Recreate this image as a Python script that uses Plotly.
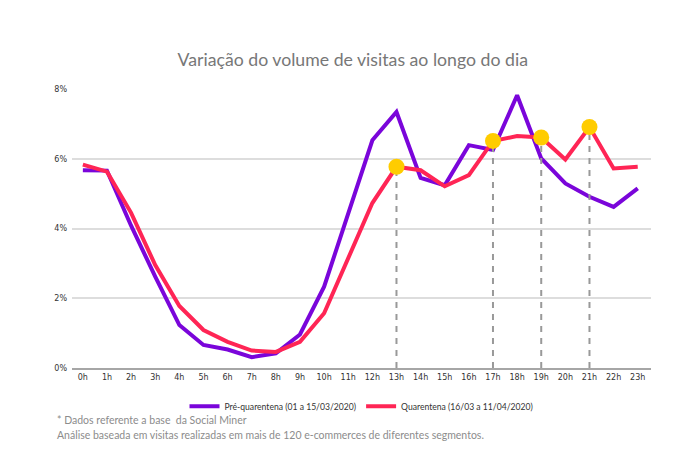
import plotly.graph_objects as go

hours = [f"{h}h" for h in range(24)]
pre_quarentena = [5.67, 5.66, 4.08, 2.62, 1.23, 0.66, 0.53, 0.31, 0.42, 0.96, 2.33, 4.45,
                  6.53, 7.34, 5.45, 5.24, 6.39, 6.25, 7.82, 6.01, 5.29, 4.91, 4.62, 5.15]
quarentena = [5.83, 5.63, 4.45, 2.95, 1.78, 1.09, 0.75, 0.50, 0.46, 0.75, 1.57, 3.15,
              4.73, 5.77, 5.67, 5.21, 5.53, 6.51, 6.65, 6.61, 5.98, 6.91, 5.72, 5.77]
destaques = ["13h", "17h", "19h", "21h"]
y_ticks = [0, 2, 4, 6, 8]
y_tick_labels = ["0%", "2%", "4%", "6%", "8%"]

PURPLE = "#7A05DA"
RED = "#FF2555"
YELLOW = "#FFCC00"

fig = go.Figure()

fig.add_trace(go.Scatter(x=hours, y=pre_quarentena, mode="lines",
                         name="Pré-quarentena (01 a 15/03/2020)",
                         line=dict(color=PURPLE, width=4)))

# dashed drop lines from highlighted points
dx, dy = [], []
for h in destaques:
    v = quarentena[hours.index(h)]
    dx += [h, h, None]
    dy += [0, v, None]
fig.add_trace(go.Scatter(x=dx, y=dy, mode="lines", showlegend=False, hoverinfo="skip",
                         line=dict(color="#999999", width=2, dash="6px,6px")))

fig.add_trace(go.Scatter(x=hours, y=quarentena, mode="lines",
                         name="Quarentena (16/03 a 11/04/2020)",
                         line=dict(color=RED, width=4)))
fig.add_trace(go.Scatter(x=destaques, y=[quarentena[hours.index(h)] for h in destaques],
                         mode="markers", showlegend=False,
                         marker=dict(color=YELLOW, size=16)))

fig.update_layout(
    width=681, height=455,
    margin=dict(l=72, r=30, t=89, b=87),
    paper_bgcolor="white", plot_bgcolor="white",
    title=dict(text="Variação do volume de visitas ao longo do dia",
               x=0.518, xanchor="center", y=0.868, yanchor="middle",
               font=dict(family="Lato", size=17.7, color="#777777")),
    xaxis=dict(type="category", categoryorder="array", categoryarray=hours,
               range=[-0.45, 23.55], showgrid=False,
               showline=True, linecolor="#A6A6A6", linewidth=2,
               ticks="", tickfont=dict(family="DejaVu Sans", size=8, color="#333333"),
               fixedrange=True),
    yaxis=dict(range=[0, 8], tickvals=y_ticks, ticktext=y_tick_labels,
               showgrid=True, gridcolor="#DDDDDD", gridwidth=1.5, zeroline=False,
               ticks="", tickfont=dict(family="DejaVu Sans", size=8, color="#333333"),
               ticklabelstandoff=4),
    legend=dict(orientation="h", x=0.5, xanchor="center", y=-0.085, yanchor="top",
                font=dict(family="Lato", size=8.6, color="#333333"), itemwidth=30,
                traceorder="normal"),
    showlegend=True,
)

fig.add_annotation(text="* Dados referente a base  da Social Miner", xref="paper", yref="paper",
                   x=-0.03, y=-0.185, xanchor="left", yanchor="middle", showarrow=False,
                   font=dict(family="Lato", size=10.5, color="#8C8C8C"))
fig.add_annotation(text="Análise baseada em visitas realizadas em mais de 120 e-commerces de diferentes segmentos.",
                   xref="paper", yref="paper",
                   x=-0.03, y=-0.24, xanchor="left", yanchor="middle", showarrow=False,
                   font=dict(family="Lato", size=10.5, color="#8C8C8C"))

fig.write_html("out.html")
